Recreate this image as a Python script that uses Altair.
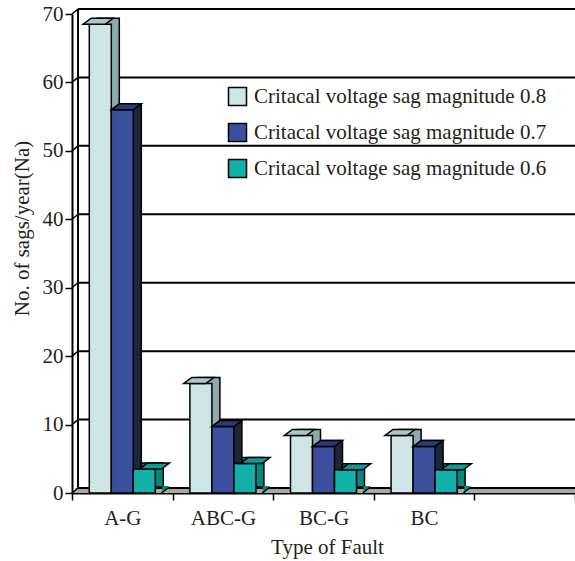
import altair as alt
import pandas as pd

# ---- data ----
faults = ["A-G", "ABC-G", "BC-G", "BC"]
series = [
    "Critacal voltage sag magnitude 0.8",
    "Critacal voltage sag magnitude 0.7",
    "Critacal voltage sag magnitude 0.6",
]
mag08 = [68.5, 16.0, 8.4, 8.4]
mag07 = [56.0, 9.7, 6.8, 6.8]
mag06 = [3.5, 4.3, 3.4, 3.4]
y_ticks = [0, 10, 20, 30, 40, 50, 60, 70]

# ---- styles ----
front_colors = ["#cfe4e4", "#3b4f9d", "#13b0aa"]
top_colors = ["#a9c9c7", "#2b3a78", "#0e9a94"]
side_colors = ["#8cabaa", "#1d2738", "#0a847f"]
FONT = "Liberation Serif"
TXT = "#231f20"

W, H = 503, 479
DX, DY = 8, 6      # bar depth
DXW, DYW = 6, 5    # wall depth
BW = 22
PAD_O = 0.786
ALIGN_BACK = 0.5 + DX / (2 * PAD_O * BW)
SYM_SIZE = 4       # sqrt(size)/2 = 1 -> path units are pixels

rows = []
for i, f in enumerate(faults):
    for s, vals in zip(series, [mag08, mag07, mag06]):
        rows.append({"fault": f, "series": s, "value": vals[i]})
df = pd.DataFrame(rows)
grid = pd.DataFrame({"v": y_ticks})
wall = pd.DataFrame({"lo": [min(y_ticks)], "hi": [max(y_ticks)]})

yscale = alt.Scale(domain=[min(y_ticks), max(y_ticks)], nice=False)
xscale = alt.Scale(domain=faults + [" "], paddingInner=0, paddingOuter=0)

XTITLE = "Type of Fault"
YTITLE = "No. of sags/year(Na)"
x_axis = alt.Axis(
    labelAngle=0, labelFont=FONT, labelFontSize=21, labelColor=TXT,
    labelPadding=7, tickBand="extent", tickSize=7, tickWidth=1.5,
    tickColor="black", domainColor="black", domainWidth=2,
    titleFont=FONT, titleFontSize=21, titleFontWeight="normal",
    titleColor=TXT, titleX=255, titleY=60, titleBaseline="alphabetic",
    grid=False,
)
y_axis = alt.Axis(
    values=y_ticks, labelFont=FONT, labelFontSize=21, labelColor=TXT,
    labelPadding=2, tickSize=7, tickWidth=1.5, tickColor="black",
    domainColor="black", domainWidth=2, grid=False,
    titleFont=FONT, titleFontSize=21, titleFontWeight="normal",
    titleColor=TXT, titleX=-50, titleY=214, titleBaseline="middle",
)

def X():
    return alt.X("fault:N", scale=xscale, axis=x_axis, title=XTITLE)

def Y(field):
    return alt.Y(field, scale=yscale, stack=None, axis=y_axis, title=YTITLE)

def XO(align=0.5):
    return alt.XOffset(
        "series:N",
        scale=alt.Scale(domain=series, paddingInner=0, paddingOuter=PAD_O, align=align),
    )

def cscale(colors):
    return alt.Scale(domain=series, range=colors)

# ---- walls & floor ----
floor = alt.Chart(grid).transform_filter(alt.datum.v == 0).mark_rect(
    color="#a8a7a1", y2Offset=-DYW
).encode(x=alt.value(3), x2=alt.value(W), y=Y("v:Q"), y2="v:Q")

back_grid = alt.Chart(grid).mark_rule(
    color="black", strokeWidth=2, yOffset=-DYW
).encode(x=alt.value(DXW), x2=alt.value(W), y=Y("v:Q"))

diag = alt.Chart(grid).mark_rule(
    color="black", strokeWidth=1.5, y2Offset=-DYW
).encode(x=alt.value(0), x2=alt.value(DXW), y=Y("v:Q"), y2="v:Q")

back_vert = alt.Chart(wall).mark_rule(
    color="black", strokeWidth=2, yOffset=-DYW, y2Offset=-DYW
).encode(x=alt.value(DXW), y=Y("lo:Q"), y2="hi:Q")

# ---- bars ----
base = alt.Chart(df)

back = base.mark_bar(
    width=BW, yOffset=-DY, y2Offset=-DY, stroke="black", strokeWidth=1.5
).encode(
    x=X(), xOffset=XO(ALIGN_BACK), y=Y("value:Q"), y2=alt.datum(0),
    fill=alt.Fill("series:N", scale=cscale(side_colors), legend=None),
)

front = base.mark_bar(width=BW, stroke="black", strokeWidth=1.5).encode(
    x=X(), xOffset=XO(), y=Y("value:Q"), y2=alt.datum(0),
    fill=alt.Fill(
        "series:N", scale=cscale(front_colors),
        legend=alt.Legend(
            title=None, orient="none", legendX=155, legendY=72,
            symbolType="square", symbolSize=324, symbolStrokeColor="black",
            symbolStrokeWidth=1.5, symbolOpacity=1,
            labelFont=FONT, labelFontSize=21, labelColor=TXT,
            labelOffset=6, rowPadding=11, padding=0, labelLimit=400,
        ),
    ),
)

top_path = f"M{-BW/2},0L{BW/2},0L{BW/2+DX},{-DY}L{-BW/2+DX},{-DY}Z"
top = base.mark_point(
    shape=top_path, size=SYM_SIZE, filled=True, opacity=1, stroke="black", strokeWidth=1.5
).encode(
    x=X(), xOffset=XO(), y=Y("value:Q"),
    fill=alt.Fill("series:N", scale=cscale(top_colors), legend=None),
)

low_fill_path = f"M{BW/2+0.8},0L{BW/2+0.8},{-DY-1}L{BW/2+DX-0.8},{-DY-1}L{BW/2+DX-0.8},{-DY+0.6}Z"
low_fill = base.transform_filter(alt.datum.series == series[2]).transform_calculate(
    base="0"
).mark_point(
    shape=low_fill_path, size=SYM_SIZE, filled=True, opacity=1, strokeWidth=0
).encode(
    x=X(), xOffset=XO(), y=Y("base:Q"),
    fill=alt.Fill("series:N", scale=cscale(side_colors), legend=None),
)

low_line = base.transform_filter(alt.datum.series == series[2]).transform_calculate(
    base="0"
).mark_point(
    shape=f"M{BW/2},0L{BW/2+DX},{-DY}", size=SYM_SIZE, filled=False, opacity=1,
    fillOpacity=0, stroke="black", strokeWidth=1.5
).encode(
    x=X(), xOffset=XO(), y=Y("base:Q"),
)

chart = alt.layer(
    floor, back_grid, diag, back_vert, back, front, top, low_fill, low_line
).resolve_scale(fill="independent", xOffset="independent").properties(
    width=W, height=H,
    padding={"left": 72, "top": 14, "right": 0, "bottom": 68},
    autosize=alt.AutoSizeParams(type="none"),
    background="white",
).configure_view(stroke=None)

chart.save("out.html", embed_options={"renderer": "svg", "actions": False})
